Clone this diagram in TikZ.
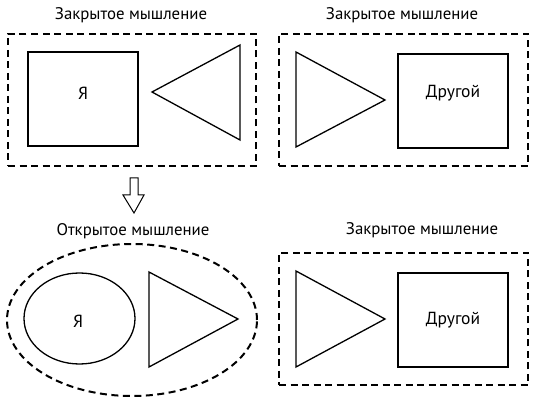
\documentclass[tikz,border=0pt]{standalone}
\usepackage{fontspec}
\setmainfont{PT Sans}
\usetikzlibrary{shapes.geometric}
\begin{document}
\begin{tikzpicture}[x=1pt,y=-1pt,
  dashframe/.style={draw,line width=2pt,dash pattern=on 7pt off 4.5pt},
  solidline/.style={draw,line width=1.3pt},
  ttl/.style={font=\fontsize{16.8}{18}\selectfont,inner sep=0pt},
  lbl/.style={font=\fontsize{17.5}{19}\selectfont,inner sep=0pt}]
\useasboundingbox (0,0) rectangle (533,403);
% top left
\node[ttl] (t1) at (131,15) {Закрытое мышление};
\node[dashframe,rectangle,minimum width=248pt,minimum height=132pt,inner sep=0pt] (f1) at (132,100) {};
\node[solidline,rectangle,minimum width=110pt,minimum height=94pt,inner sep=0pt] (ya1) at (83,99) {};
\node[lbl] (ya1l) at (83,93) {Я};
\draw[solidline,line join=miter] (240,45) -- (152,92) -- (240,140) -- cycle;
% top right
\node[ttl] (t2) at (402,15) {Закрытое мышление};
\node[dashframe,rectangle,minimum width=249pt,minimum height=132pt,inner sep=0pt] (f2) at (403.5,100) {};
\draw[solidline] (296,52) -- (385,100) -- (296,147) -- cycle;
\node[solidline,rectangle,minimum width=110pt,minimum height=94pt,inner sep=0pt] (dr1) at (453,101) {};
\node[lbl] (dr1l) at (453,93) {Другой};
% arrow
\draw[line width=1pt,line join=miter] (130,178) -- (138,178) -- (138,195) -- (144,195) -- (134,213) -- (123,195) -- (130,195) -- cycle;
% bottom left
\node[ttl] (t3) at (133,231) {Открытое мышление};
\node[dashframe,ellipse,minimum width=250pt,minimum height=152pt,inner sep=0pt] (f3) at (132,320) {};
\node[solidline,ellipse,minimum width=111pt,minimum height=91pt,inner sep=0pt] (ya2) at (79.5,318.5) {};
\node[lbl] (ya2l) at (78,321) {Я};
\draw[solidline] (149,272) -- (238,319) -- (149,367) -- cycle;
% bottom right
\node[ttl] (t4) at (422,230) {Закрытое мышление};
\node[dashframe,rectangle,minimum width=249pt,minimum height=132pt,inner sep=0pt] (f4) at (403.5,319) {};
\draw[solidline] (296,271) -- (385,319) -- (296,367) -- cycle;
\node[solidline,rectangle,minimum width=110pt,minimum height=94pt,inner sep=0pt] (dr2) at (453,320) {};
\node[lbl] (dr2l) at (453,320) {Другой};
\end{tikzpicture}
\end{document}
